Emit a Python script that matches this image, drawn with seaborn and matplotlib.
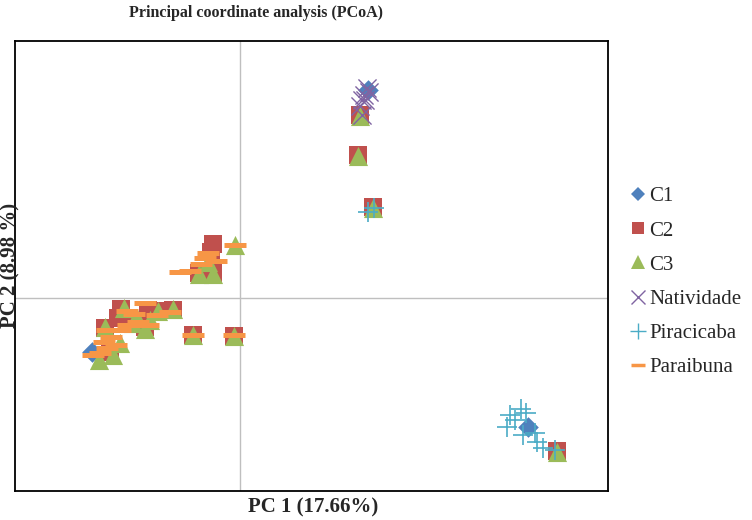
import matplotlib
matplotlib.use("Agg")
import matplotlib.pyplot as plt
from matplotlib.lines import Line2D
import seaborn as sns

# PCoA scores (PC1, PC2)
c1_x = [-0.197, 0.171, 0.384]
c1_y = [-0.084, 0.323, -0.201]

c2_x = [-0.159, -0.180, -0.163, -0.123, -0.111, -0.089, -0.127, -0.173, -0.063, -0.008, -0.147,
        -0.036, -0.039, -0.055, -0.036, 0.160, 0.157, 0.177, 0.423]
c2_y = [-0.017, -0.047, -0.031, -0.019, -0.020, -0.019, -0.045, -0.084, -0.058, -0.059, -0.037,
        0.084, 0.072, 0.039, 0.039, 0.285, 0.222, 0.142, -0.238]

c3_x = [-0.155, -0.109, -0.089, -0.180, -0.137, -0.127, -0.160, -0.169, -0.188, -0.143, -0.063,
        -0.008, -0.120, -0.007, -0.055, -0.036, -0.043, 0.160, 0.157, 0.177, 0.423]
c3_y = [-0.016, -0.020, -0.017, -0.045, -0.031, -0.048, -0.070, -0.089, -0.096, -0.039, -0.058,
        -0.059, -0.034, 0.082, 0.037, 0.037, 0.056, 0.283, 0.221, 0.140, -0.240]

nat_x = [0.169, 0.165, 0.163, 0.160, 0.172, 0.167, 0.163]
nat_y = [0.327, 0.316, 0.308, 0.299, 0.320, 0.308, 0.285]

pir_x = [0.171, 0.179, 0.360, 0.375, 0.381, 0.367, 0.356, 0.377, 0.393, 0.396, 0.404, 0.420]
pir_y = [0.134, 0.140, -0.182, -0.173, -0.179, -0.190, -0.201, -0.213, -0.210, -0.224, -0.233, -0.236]

par_x = [-0.127, -0.151, -0.141, -0.111, -0.093, -0.177, -0.160, -0.149, -0.136, -0.123, -0.172,
         -0.181, -0.187, -0.196, -0.177, -0.165, -0.063, -0.008,
         -0.007, -0.043, -0.047, -0.032, -0.052, -0.067, -0.080]
par_y = [-0.008, -0.020, -0.025, -0.026, -0.022, -0.050, -0.050, -0.042, -0.037, -0.042, -0.061,
         -0.068, -0.086, -0.089, -0.078, -0.073, -0.058, -0.058,
         0.082, 0.070, 0.062, 0.058, 0.053, 0.042, 0.040]

labels = ["C1", "C2", "C3", "Natividade", "Piracicaba", "Paraibuna"]
colors = ["#4F81BD", "#C0504D", "#9BBB59", "#8064A2", "#4BACC6", "#F79646"]

sns.set_style("white")
plt.rcParams["font.family"] = ["Liberation Serif", "DejaVu Serif"]

fig = plt.figure(figsize=(7.52, 5.2), dpi=100)
ax = fig.add_axes([0.01995, 0.0558, 0.7886, 0.8654])

ax.axvline(0, color="#BFBFBF", lw=1, zorder=0)
ax.axhline(0, color="#BFBFBF", lw=1, zorder=0)

sns.scatterplot(x=c1_x, y=c1_y, marker="D", s=110, color=colors[0], linewidth=0, ax=ax, zorder=2)
sns.scatterplot(x=c2_x, y=c2_y, marker="s", s=150, color=colors[1], linewidth=0, ax=ax, zorder=3)
sns.scatterplot(x=c3_x, y=c3_y, marker="^", s=190, color=colors[2], linewidth=0, ax=ax, zorder=4)
sns.scatterplot(x=nat_x, y=nat_y, marker="x", s=170, color=colors[3], linewidth=1, ax=ax, zorder=5)
sns.scatterplot(x=pir_x, y=pir_y, marker="+", s=200, color=colors[4], linewidth=1.2, ax=ax, zorder=6)
sns.scatterplot(x=par_x, y=par_y, marker="_", s=230, color=colors[5], linewidth=3.6, ax=ax, zorder=7)

ax.set_xlim(-0.3, 0.4907)
ax.set_ylim(-0.3, 0.4)
ax.set_xticks([])
ax.set_yticks([])
for sp in ax.spines.values():
    sp.set_color("black")
    sp.set_linewidth(1.3)

fig.text(256 / 752, 1 - 13 / 520, "Principal coordinate analysis (PCoA)", ha="center", va="center",
         fontsize=11.5, fontweight="bold")
fig.text(313 / 752, 1 - 507 / 520, "PC 1 (17.66%)", ha="center", va="center",
         fontsize=15, fontweight="bold")
fig.text(10 / 752, 1 - 265 / 520, "PC 2 (8.98 %)", ha="center", va="center", rotation=90,
         fontsize=15, fontweight="bold")

handles = [
    Line2D([], [], marker="D", ls="", color=colors[0], markersize=7, mew=0),
    Line2D([], [], marker="s", ls="", color=colors[1], markersize=9, mew=0),
    Line2D([], [], marker="^", ls="", color=colors[2], markersize=10, mew=0),
    Line2D([], [], marker="x", ls="", color=colors[3], markersize=10, mew=1),
    Line2D([], [], marker="+", ls="", color=colors[4], markersize=11, mew=1),
    Line2D([], [], marker="_", ls="", color=colors[5], markersize=10, mew=2.5),
]
fig.legend(handles, labels, loc="center left", bbox_to_anchor=(621 / 752, 1 - 282 / 520),
           frameon=False, fontsize=15, handlelength=0.6, handletextpad=0.25,
           labelspacing=0.7, borderpad=0)

fig.savefig("out.png", dpi=100)
